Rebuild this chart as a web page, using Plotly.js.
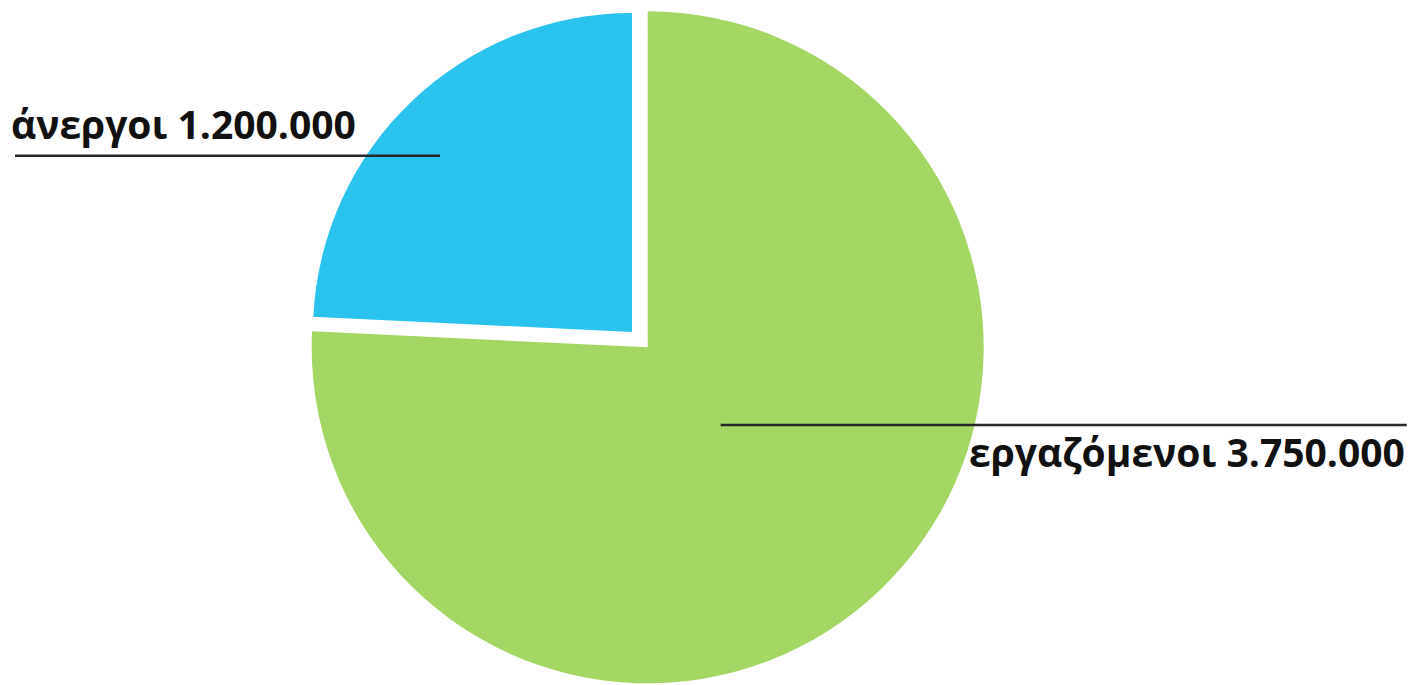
<!DOCTYPE html>
<html>
<head>
<meta charset="utf-8">
<script src="https://cdn.plot.ly/plotly-3.0.1.min.js"></script>
<style>
  html, body { margin: 0; padding: 0; background: #ffffff; overflow: hidden; }
  #chart { width: 1412px; height: 685px; }
</style>
</head>
<body>
<div id="chart"></div>
<script>
// ---- data ----
const labels = ["εργαζόμενοι", "άνεργοι"];
const values = [3750000, 1200000];
const colors = ["#A3D663", "#29C3EE"];

// ---- helpers ----
function fmt(v) {
  return String(v).replace(/\B(?=(\d{3})+(?!\d))/g, ".");
}
const W = 1412, H = 685;
const px = x => x / W;
const py = y => 1 - y / H;
const transparent = "rgba(0,0,0,0)";

// main (green) pie, full size
const traceMain = {
  type: "pie",
  labels: labels,
  values: values,
  sort: false,
  direction: "counterclockwise",
  rotation: 0,
  textinfo: "none",
  hoverinfo: "label+value",
  showlegend: false,
  marker: { colors: [colors[0], transparent], line: { width: 0 } },
  domain: { x: [px(311.7), px(983.7)], y: [py(683.3), py(11.3)] }
};

// exploded (blue) slice, pulled up-left and slightly smaller
const traceExploded = {
  type: "pie",
  labels: labels,
  values: values,
  sort: false,
  direction: "counterclockwise",
  rotation: 0,
  textinfo: "none",
  hoverinfo: "label+value",
  showlegend: false,
  marker: { colors: [transparent, colors[1]], line: { width: 0 } },
  domain: { x: [px(313), px(951)], y: [py(651), py(13)] }
};

const labelFont = { family: "Open Sans, Noto Sans, sans-serif", size: 39, color: "#111111", weight: 700 };

const layout = {
  width: W,
  height: H,
  margin: { l: 0, r: 0, t: 0, b: 0, pad: 0 },
  paper_bgcolor: "#ffffff",
  plot_bgcolor: "#ffffff",
  showlegend: false,
  annotations: [
    {
      xref: "paper", yref: "paper",
      x: px(9), y: py(123),
      xanchor: "left", yanchor: "middle",
      text: "<b>" + labels[1] + " " + fmt(values[1]) + "</b>",
      showarrow: false,
      font: labelFont
    },
    {
      xref: "paper", yref: "paper",
      x: px(1407), y: py(451),
      xanchor: "right", yanchor: "middle",
      text: "<b>" + labels[0] + " " + fmt(values[0]) + "</b>",
      showarrow: false,
      font: labelFont
    }
  ],
  shapes: [
    {
      type: "line", xref: "paper", yref: "paper",
      x0: px(15), x1: px(440), y0: py(155.7), y1: py(155.7),
      line: { color: "#262626", width: 2.5 }
    },
    {
      type: "line", xref: "paper", yref: "paper",
      x0: px(720.7), x1: px(1406.7), y0: py(425), y1: py(425),
      line: { color: "#262626", width: 2.5 }
    }
  ]
};

Plotly.newPlot("chart", [traceMain, traceExploded], layout, { staticPlot: true, displayModeBar: false });
</script>
</body>
</html>
